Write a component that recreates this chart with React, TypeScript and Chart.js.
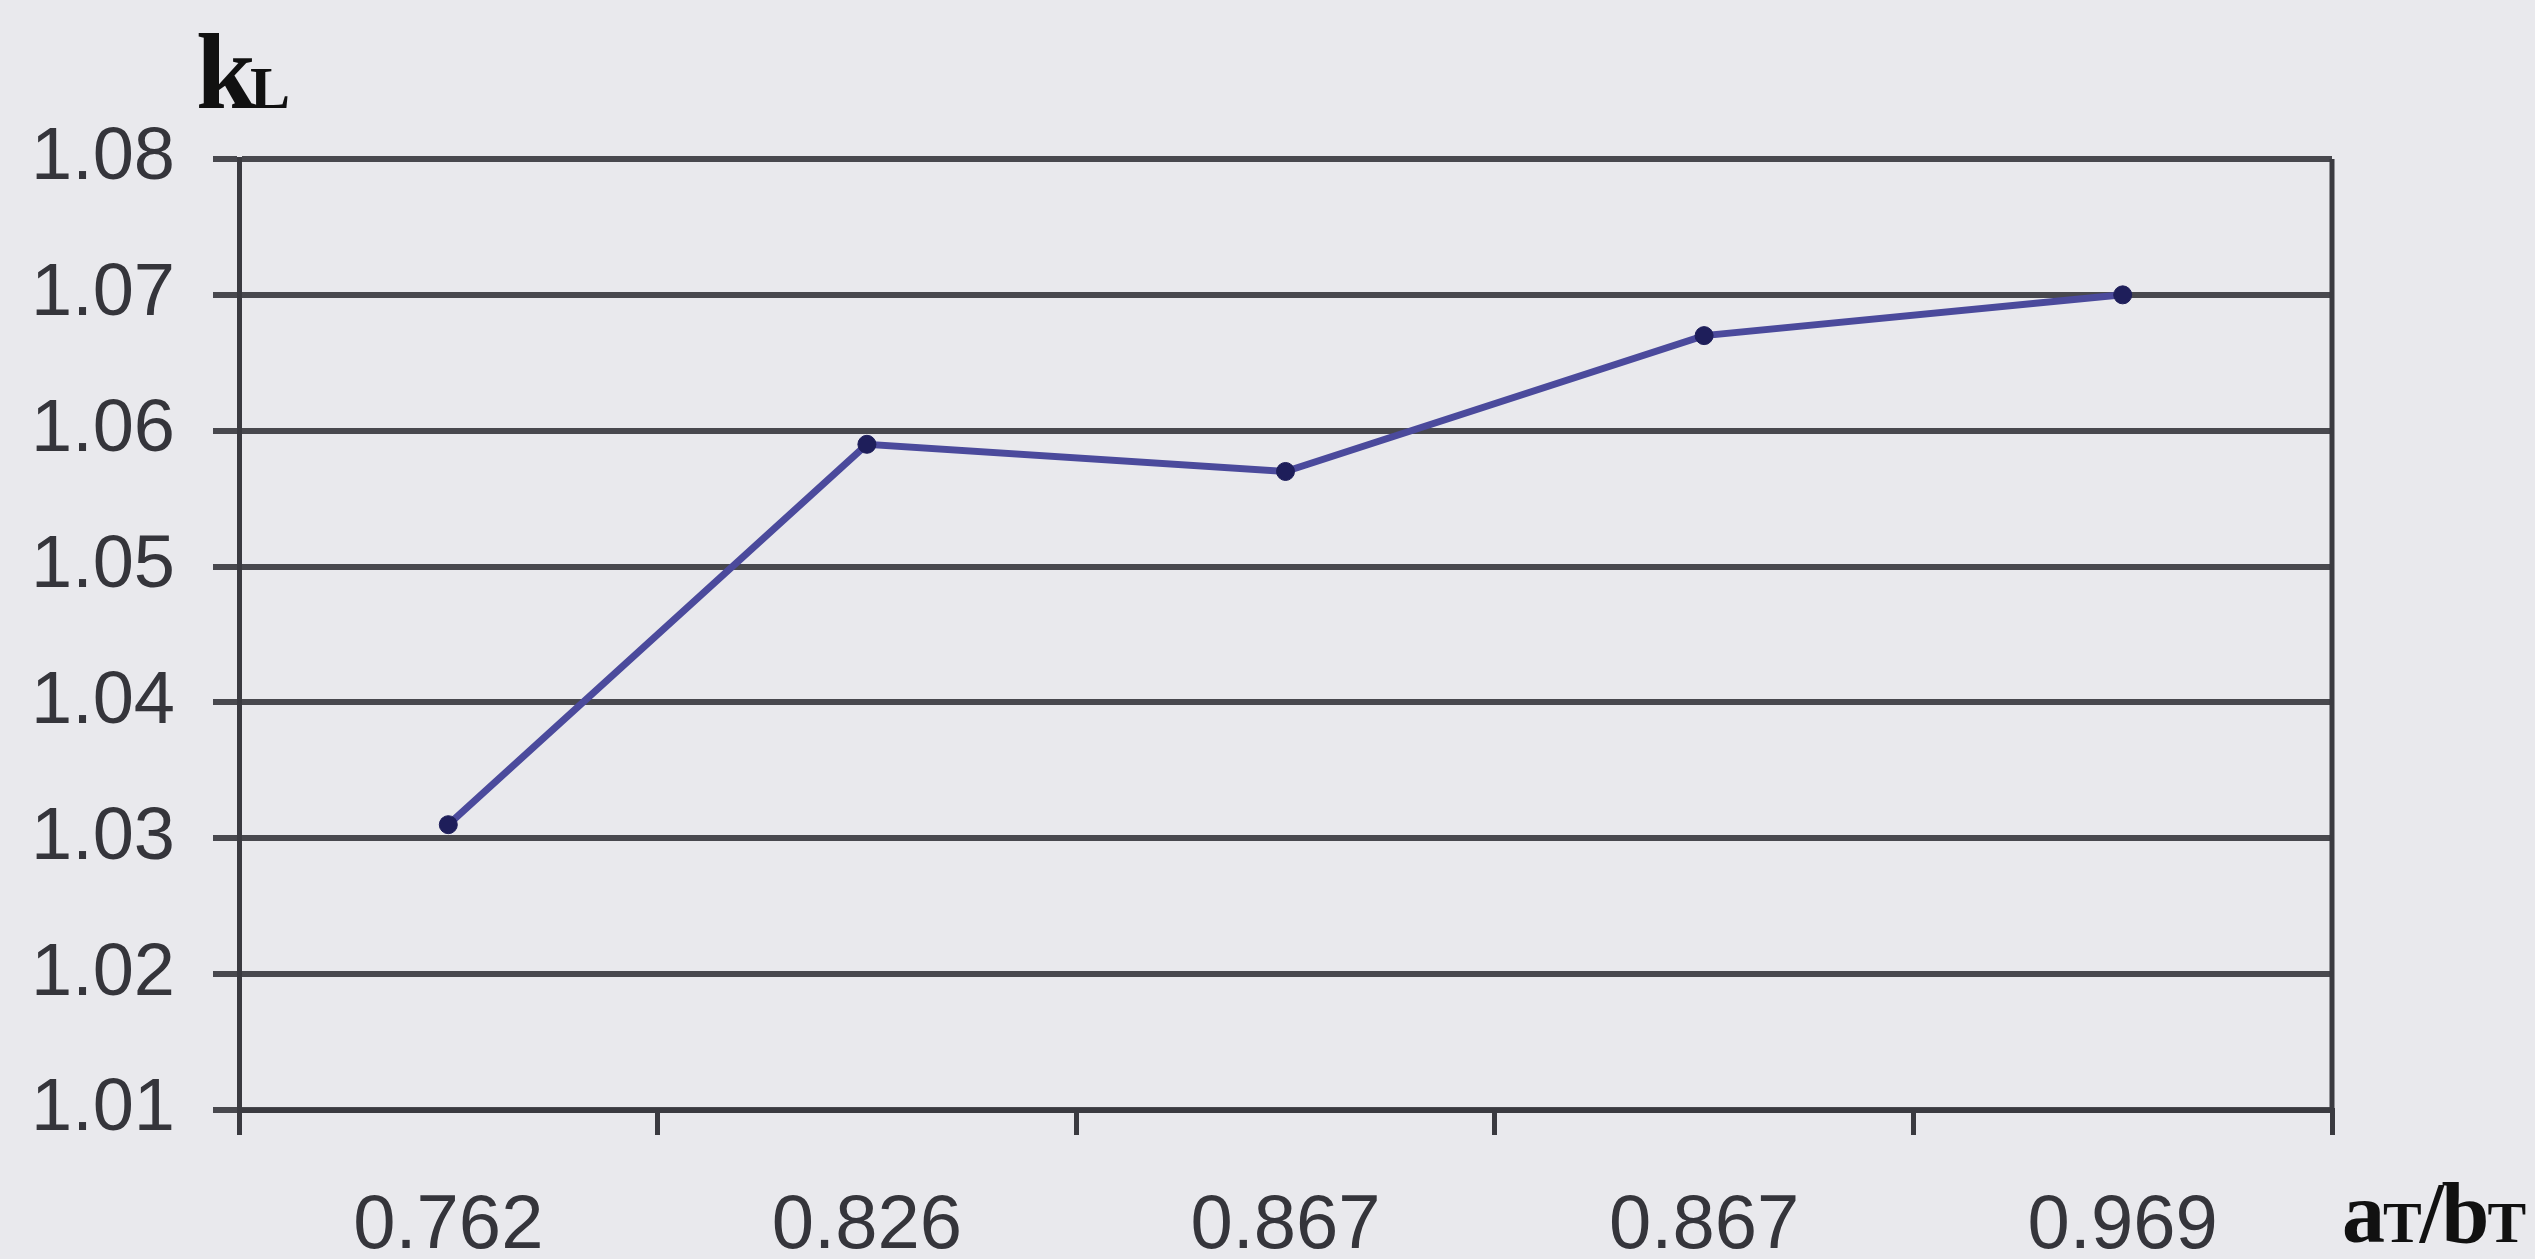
import React, { useEffect, useRef } from "react";
import { Chart, registerables } from "chart.js";

Chart.register(...registerables);

const categories = ["0.762", "0.826", "0.867", "0.867", "0.969"];
const kValues = [1.031, 1.059, 1.057, 1.067, 1.07];
const yMin = 1.01;
const yMax = 1.08;
const yStep = 0.01;

const W = 2535;
const H = 1259;
const AREA_LEFT = 239;
const AREA_RIGHT = 2332;
const AREA_TOP = 159;
const AREA_BOTTOM = 1110;

const decorPlugin = {
  id: "decor",
  beforeDraw(chart: any) {
    const ctx = chart.ctx;
    ctx.save();
    ctx.fillStyle = "#e9e9ed";
    ctx.fillRect(0, 0, chart.width, chart.height);
    ctx.restore();
  },
  afterDraw(chart: any) {
    const ctx = chart.ctx;
    const a = chart.chartArea;
    ctx.save();
    // right border of plot area
    ctx.strokeStyle = "#3a3a40";
    ctx.lineWidth = 5;
    ctx.beginPath();
    ctx.moveTo(a.right, a.top);
    ctx.lineTo(a.right, a.bottom);
    ctx.stroke();

    // y-axis title: k with subscript L
    ctx.fillStyle = "#111111";
    ctx.textBaseline = "alphabetic";
    ctx.textAlign = "left";
    ctx.font = "bold 108px 'Liberation Serif', 'DejaVu Serif', serif";
    ctx.fillText("k", 196, 108);
    const kw = ctx.measureText("k").width;
    ctx.font = "bold 60px 'Liberation Serif', 'DejaVu Serif', serif";
    ctx.fillText("L", 196 + kw - 6, 108);

    // x-axis title: aT/bT
    let x = 2342;
    const base = 1242;
    const big = "bold 86px 'Liberation Serif', 'DejaVu Serif', serif";
    const small = "bold 58px 'Liberation Serif', 'DejaVu Serif', serif";
    const parts: [string, string][] = [
      ["a", big],
      ["T", small],
      ["/", big],
      ["b", big],
      ["T", small],
    ];
    for (const [t, f] of parts) {
      ctx.font = f;
      ctx.fillText(t, x, base);
      x += ctx.measureText(t).width - 2;
    }
    ctx.restore();
  },
};

export default function App() {
  const ref = useRef<HTMLCanvasElement | null>(null);

  useEffect(() => {
    document.body.style.margin = "0";
    const canvas = ref.current;
    if (!canvas) return;
    const chart = new Chart(canvas, {
      type: "line",
      data: {
        labels: categories,
        datasets: [
          {
            label: "kL",
            data: kValues,
            borderColor: "#4b4a9c",
            borderWidth: 7,
            pointRadius: 9,
            pointBackgroundColor: "#1e1e5a",
            pointBorderColor: "#1e1e5a",
            pointBorderWidth: 1,
            tension: 0,
            fill: false,
          },
        ],
      },
      options: {
        responsive: false,
        animation: false,
        devicePixelRatio: 1,
        clip: false as any,
        layout: {
          padding: { top: AREA_TOP, right: W - AREA_RIGHT, left: 0, bottom: 0 },
        },
        plugins: {
          legend: { display: false },
          tooltip: { enabled: false },
          title: { display: false },
        },
        scales: {
          x: {
            type: "category",
            offset: true,
            afterFit(scale: any) {
              scale.height = H - AREA_BOTTOM;
            },
            grid: {
              display: true,
              offset: true,
              drawOnChartArea: false,
              drawTicks: true,
              tickLength: 25,
              color: "#3a3a40",
              lineWidth: 5,
            },
            border: { display: true, color: "#3a3a40", width: 5 },
            ticks: {
              color: "#35353b",
              padding: 46,
              font: { family: "'Liberation Sans', Arial, sans-serif", size: 76 },
              maxRotation: 0,
              autoSkip: false,
            },
          },
          y: {
            type: "linear",
            min: yMin,
            max: yMax,
            afterFit(scale: any) {
              scale.width = AREA_LEFT;
            },
            grid: {
              display: true,
              drawOnChartArea: true,
              drawTicks: true,
              tickLength: 26,
              color: "#48484e",
              lineWidth: 6,
            },
            border: { display: true, color: "#3a3a40", width: 5 },
            ticks: {
              stepSize: yStep,
              color: "#35353b",
              padding: 38,
              font: { family: "'Liberation Sans', Arial, sans-serif", size: 74 },
              callback: (v: any) => Number(v).toFixed(2),
            },
          },
        },
      },
      plugins: [decorPlugin],
    });
    return () => chart.destroy();
  }, []);

  return (
    <div style={{ width: W, height: H }}>
      <canvas ref={ref} width={W} height={H} style={{ display: "block" }} />
    </div>
  );
}
